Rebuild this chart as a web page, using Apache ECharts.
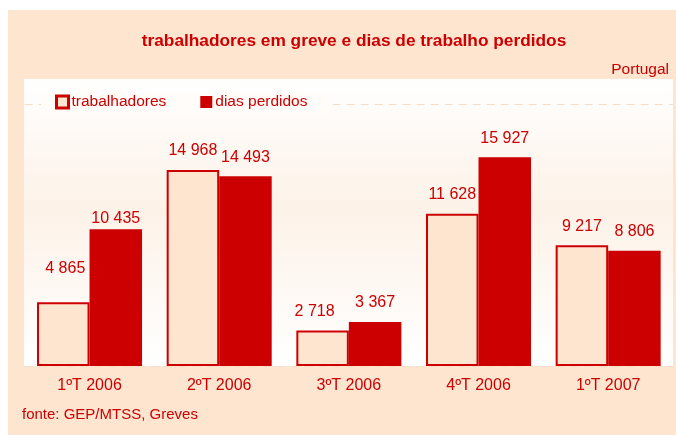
<!DOCTYPE html>
<html>
<head>
<meta charset="utf-8">
<script src="https://cdn.jsdelivr.net/npm/echarts@6/dist/echarts.min.js"></script>
<style>
html,body{margin:0;padding:0;background:#ffffff;}
#chart{width:676px;height:435px;}
</style>
</head>
<body>
<div id="chart"></div>
<script>
var categories = ['1ºT 2006', '2ºT 2006', '3ºT 2006', '4ºT 2006', '1ºT 2007'];
var trabalhadores = [4865, 14968, 2718, 11628, 9217];
var diasPerdidos = [10435, 14493, 3367, 15927, 8806];
var seriesNames = ['trabalhadores', 'dias perdidos'];
var yMax = 20000;

// label offsets (styling only)
var trabLabelOffsets = [[2, -15], [0, 0], [-8, 0], [0, 0], [0, 0]];
var diasLabelOffsets = [[0, 8], [0, 0], [0, 0], [0, 0], [0, 0]];

var RED = '#CC0000';
var BEIGE = '#FDE5D0';
var FONT = 'Liberation Sans, Arial, sans-serif';

function fmt(v) {
  return String(v).replace(/\B(?=(\d{3})+(?!\d))/g, ' ');
}

function buildData(values, offsets) {
  return values.map(function (v, i) {
    return { value: v, label: { offset: offsets[i] } };
  });
}

var chart = echarts.init(document.getElementById('chart'), null, { renderer: 'canvas' });

var option = {
  backgroundColor: '#ffffff',
  animation: false,
  title: {
    text: 'trabalhadores em greve e dias de trabalho perdidos',
    left: 349,
    textAlign: 'center',
    top: 28,
    textStyle: { color: RED, fontFamily: FONT, fontWeight: 'bold', fontSize: 17.3 }
  },
  graphic: [
    { type: 'rect', z: -20, silent: true, shape: { x: 8, y: 10, width: 668, height: 425 }, style: { fill: BEIGE } },
    { type: 'rect', z: -19, silent: true, shape: { x: 24, y: 79, width: 649, height: 287 },
      style: { fill: new echarts.graphic.LinearGradient(0, 0, 0, 1, [
        { offset: 0, color: '#ffffff' },
        { offset: 0.45, color: '#fdf2e8' },
        { offset: 1, color: '#ffffff' }
      ]) } },
    { type: 'text', left: 'auto', right: 7, top: 62, style: { text: 'Portugal', fill: RED, font: '15.5px ' + FONT } },
    { type: 'text', left: 22, top: 407, style: { text: 'fonte: GEP/MTSS, Greves', fill: RED, font: '15px ' + FONT } }
  ],
  legend: {
    left: 41,
    top: 91,
    itemWidth: 12,
    itemHeight: 12,
    itemGap: 34,
    padding: [3, 22, 3, 14],
    backgroundColor: '#fffcfa',
    textStyle: { color: RED, fontFamily: FONT, fontSize: 15.5, padding: [0, 0, 0, -2] },
    data: [
      { name: seriesNames[0], icon: 'rect', itemStyle: { color: BEIGE, borderColor: RED, borderWidth: 3 } },
      { name: seriesNames[1], icon: 'rect', itemStyle: { color: RED } }
    ]
  },
  grid: { left: 24.7, right: 3, top: 104, bottom: 69, containLabel: false },
  xAxis: {
    type: 'category',
    data: categories,
    axisLine: { show: false },
    axisTick: { show: false },
    axisLabel: { color: RED, fontFamily: FONT, fontSize: 16, margin: 12 }
  },
  yAxis: {
    type: 'value',
    min: 0,
    max: yMax,
    interval: yMax,
    axisLine: { show: false },
    axisTick: { show: false },
    axisLabel: { show: false },
    splitLine: { show: true, lineStyle: { color: '#f7dcc6', type: [8, 6], width: 1 } }
  },
  series: [
    {
      name: seriesNames[0],
      type: 'bar',
      barGap: '0%',
      barCategoryGap: '19%',
      data: buildData(trabalhadores, trabLabelOffsets),
      itemStyle: { color: BEIGE, borderColor: RED, borderWidth: 2 },
      label: { show: true, position: 'top', distance: 11, color: RED, fontFamily: FONT, fontSize: 16, formatter: function (p) { return fmt(p.value); } }
    },
    {
      name: seriesNames[1],
      type: 'bar',
      barGap: '0%',
      barCategoryGap: '19%',
      data: buildData(diasPerdidos, diasLabelOffsets),
      itemStyle: { color: RED },
      label: { show: true, position: 'top', distance: 11, color: RED, fontFamily: FONT, fontSize: 16, formatter: function (p) { return fmt(p.value); } }
    }
  ]
};

chart.setOption(option);
</script>
</body>
</html>
